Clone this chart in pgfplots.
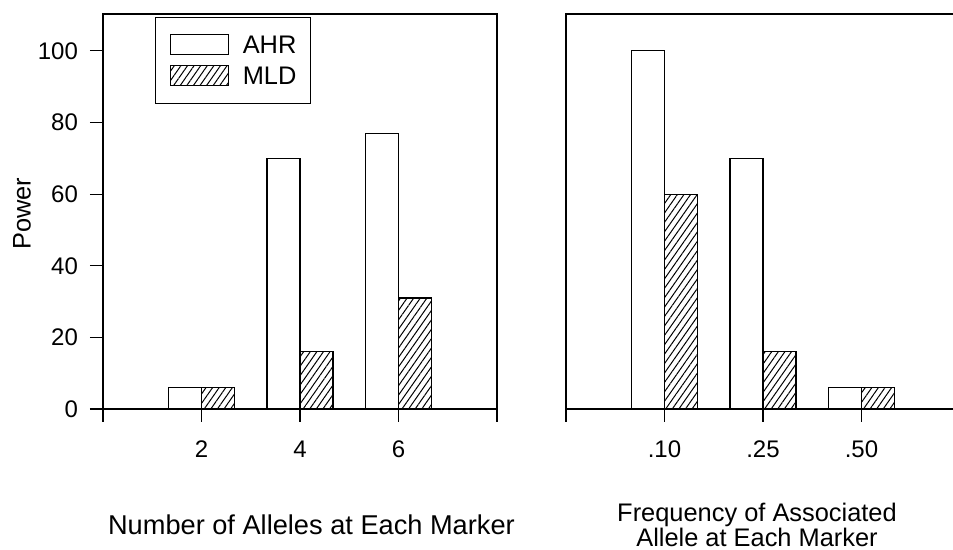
\documentclass[border=0pt]{standalone}
\usepackage{fontspec}
\setmainfont{Liberation Sans}
\usepackage{pgfplots}
\pgfplotsset{compat=1.18}
\usetikzlibrary{patterns.meta}

\tikzset{hatch/.style={pattern={Lines[angle=55,distance=2.7pt,line width=0.5pt]}}}
\pgfplotsset{
  panel/.style={
    scale only axis, width=197pt, height=197.5pt,
    xmin=0, xmax=4, ymin=0, ymax=110.3,
    ybar=0pt, bar width=16.5pt,
    xtick={0,1,2,3,4},
    tick align=outside, major tick length=6.5pt,
    xtick pos=bottom, ytick pos=left,
    axis line style={line width=0.6pt},
    tick style={black, line width=0.6pt},
    /pgf/number format/assume math mode=true,
    ticklabel style={font=\fontsize{12}{14}\selectfont},
    xticklabel style={yshift=-6pt},
    yticklabel style={xshift=-2.5pt},
    label style={font=\fontsize{12.7}{12.5}\selectfont},
  },
  bar/.style={draw=black, line width=0.6pt,
    legend image code/.code={\draw[##1] (0pt,-4pt) rectangle (29pt,6pt);}},
}

\begin{document}
\begin{tikzpicture}
\useasboundingbox (-51.5pt,-70.5pt) rectangle (425pt,204.5pt);
\clip (-51.5pt,-70.5pt) rectangle (425pt,204.5pt);

% left panel: number of alleles
\begin{axis}[panel, at={(0pt,0pt)},
    xticklabels={,2,4,6,},
    ytick={0,20,40,60,80,100},
    ylabel={Power},
    ylabel style={at={(axis description cs:-0.2056,0.494)}, anchor=center},
    xlabel={Number of Alleles at Each Marker},
    xlabel style={at={(axis description cs:0.529,-0.2937)}, anchor=center,
      font=\fontsize{13.6}{14}\selectfont},
    legend style={at={(0.132,0.992)}, anchor=north west, draw=black,
      line width=0.6pt, inner xsep=7pt, inner ysep=8pt,
      nodes={inner sep=0pt}, column sep=7pt, row sep=4pt,
      font=\fontsize{12.7}{14}\selectfont},
    legend cell align=left,
  ]
\addplot[bar, fill=white] coordinates {(1,6) (2,70) (3,77)};
\addlegendentry{AHR}
\addplot[bar, hatch] coordinates {(1,6) (2,16) (3,31)};
\addlegendentry{MLD}
\end{axis}

% right panel: frequency of associated allele
\begin{axis}[panel, at={(231.5pt,0pt)},
    xticklabels={,.10,.25,.50,},
    ytick=\empty,
    xlabel={Frequency of Associated\\Allele at Each Marker},
    xlabel style={at={(axis description cs:0.4848,-0.2937)}, anchor=center, align=center},
  ]
\addplot[bar, fill=white] coordinates {(1,100) (2,70) (3,6)};
\addplot[bar, hatch] coordinates {(1,60) (2,16) (3,6)};
\end{axis}
\end{tikzpicture}
\end{document}
